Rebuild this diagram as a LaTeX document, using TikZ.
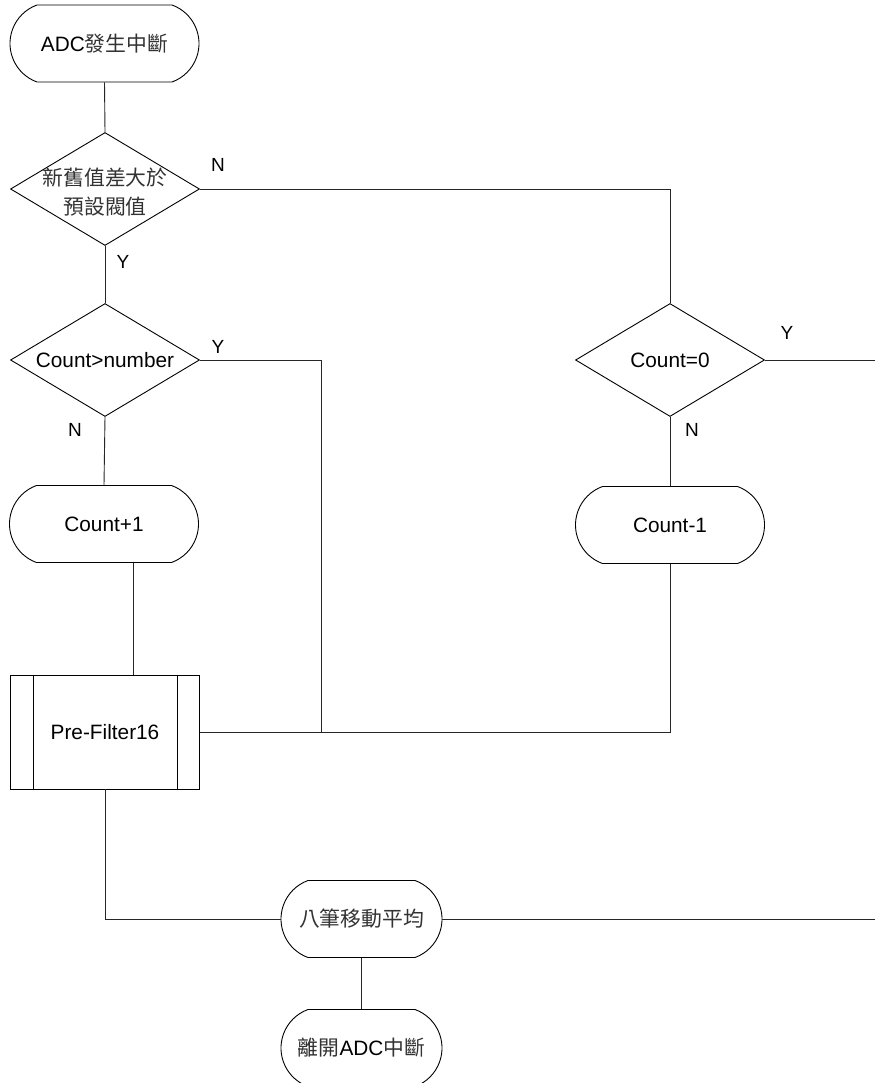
\documentclass[tikz,border=0pt]{standalone}
\usepackage{fontspec}
\setmainfont{Liberation Sans}
\newfontfamily\cjk{Noto Sans CJK TC}
\usetikzlibrary{shapes.geometric,shapes.misc}
\tikzset{
  base/.style={draw=black, line width=0.9pt, inner sep=0pt, font=\fontsize{20.8}{29}\selectfont},
  term/.style={base, rounded rectangle, rounded rectangle arc length=140, minimum width=189pt, minimum height=77pt},
  term2/.style={base, rounded rectangle, rounded rectangle arc length=140, minimum width=161pt, minimum height=77pt},
  dec/.style={base, diamond, minimum width=189pt, minimum height=113pt},
  proc/.style={base, rectangle, minimum width=189pt, minimum height=114pt},
  conn/.style={draw=black!85, line width=0.9pt},
  lab/.style={font=\fontsize{19}{22}\selectfont, inner sep=0pt},
  ctext/.style={font=\fontsize{20.8}{29}\selectfont, align=center, inner sep=0pt, text=black!80}
}
\begin{document}
\begin{tikzpicture}[x=1pt,y=-1pt]
\clip (0,0) rectangle (875,1083);
\fill[white] (0,0) rectangle (875,1083);
% nodes
\node[term] (start) at (104.5,43.5) {ADC{\cjk\color{black!80}發生中斷}};
\node[dec] (d1) at (105,189) {};
\node[ctext] (d1t) at (105,192) {{\cjk 新舊值差大於}\\{\cjk 預設閥值}};
\node[dec] (d2) at (105,360) {};
\node[base, draw=none] (d2t) at (105,360) {Count>number};
\node[term] (c1) at (104,524) {Count+1};
\node[proc] (pf) at (105,732) {Pre-Filter16};
\draw[line width=0.9pt] ([xshift=23pt]pf.north west) -- ([xshift=23pt]pf.south west);
\draw[line width=0.9pt] ([xshift=-23pt]pf.north east) -- ([xshift=-23pt]pf.south east);
\node[dec] (d3) at (670,360) {};
\node[base, draw=none] (d3t) at (670,360) {Count=0};
\node[term] (c2) at (670,525) {Count-1};
\node[term2] (avg) at (361.5,919) {\cjk\color{black!80}八筆移動平均};
\node[term2] (exit) at (361.5,1048) {{\cjk\color{black!80}離開}ADC{\cjk\color{black!80}中斷}};
% coordinates
\coordinate (j1) at (321,732);
\coordinate (e1) at (875,360);
\coordinate (e2) at (875,919);
% connectors
\draw[conn] (start.south) -- (d1.north);
\draw[conn] (d1.east) -| (d3.north);
\draw[conn] (d1.south) -- (d2.north);
\draw[conn] (d2.east) -| (j1);
\draw[conn] (d2.south) -- (c1.north);
\draw[conn] ([xshift=29pt]c1.south) -- ([xshift=28pt]pf.north);
\draw[conn] (c2.south) |- (pf.east);
\draw[conn] (d3.south) -- (c2.north);
\draw[conn] (d3.east) -- (e1);
\draw[conn] (pf.south) |- (avg.west);
\draw[conn] (avg.east) -- (e2);
\draw[conn] (avg.south) -- (exit.north);
% labels
\node[lab] (l1) at (218,165) {N};
\node[lab] (l2) at (123,262) {Y};
\node[lab] (l3) at (218,347) {Y};
\node[lab] (l4) at (75,430) {N};
\node[lab] (l5) at (787,333) {Y};
\node[lab] (l6) at (692,430) {N};
\end{tikzpicture}
\end{document}
